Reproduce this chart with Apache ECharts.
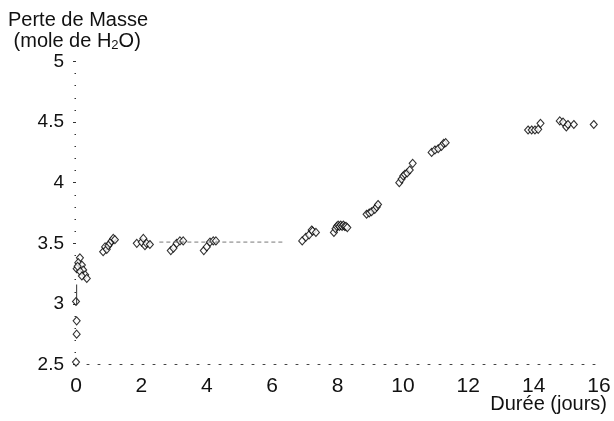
<!DOCTYPE html>
<html>
<head>
<meta charset="utf-8">
<script src="https://cdn.jsdelivr.net/npm/echarts@6/dist/echarts.min.js"></script>
<style>
html,body{margin:0;padding:0;background:#fff;}
#chart{width:614px;height:421px;}
</style>
</head>
<body>
<div id="chart"></div>
<script>
// Durée (jours)
var days = [
  0.00, 0.02, 0.02, 0.00,
  0.12, 0.07, 0.18, 0.02, 0.22, 0.12, 0.28, 0.18, 0.33, 0.05,
  0.83, 0.89, 0.94, 0.99, 1.04, 1.09, 1.14, 1.19,
  1.86, 2.01, 2.06, 2.11, 2.16, 2.26,
  2.90, 2.98, 3.08, 3.18, 3.28,
  3.91, 4.00, 4.10, 4.20, 4.28,
  6.92, 7.03, 7.13, 7.21, 7.24, 7.34,
  7.89, 7.94, 7.98, 8.02, 8.06, 8.10, 8.14, 8.18, 8.22, 8.26, 8.30,
  8.89, 8.97, 9.04, 9.14, 9.20, 9.24,
  9.89, 9.96, 10.01, 10.06, 10.13, 10.21, 10.30,
  10.88, 10.98, 11.08, 11.18, 11.25, 11.31,
  13.83, 13.94, 14.04, 14.14, 14.21,
  14.80, 14.90, 15.00, 15.05, 15.23,
  15.84
];
// Perte de Masse (mole de H2O)
var loss = [
  2.52, 2.75, 2.86, 3.02,
  3.38, 3.34, 3.32, 3.29, 3.28, 3.27, 3.24, 3.23, 3.21, 3.31,
  3.43, 3.47, 3.45, 3.48, 3.50, 3.52, 3.54, 3.53,
  3.50, 3.51, 3.54, 3.48, 3.50, 3.49,
  3.44, 3.46, 3.50, 3.52, 3.52,
  3.44, 3.47, 3.51, 3.52, 3.52,
  3.52, 3.55, 3.57, 3.61, 3.60, 3.59,
  3.59, 3.62, 3.64, 3.65, 3.64, 3.65, 3.64, 3.65, 3.64, 3.64, 3.63,
  3.74, 3.75, 3.76, 3.78, 3.80, 3.82,
  4.00, 4.03, 4.055, 4.07, 4.08, 4.105, 4.16,
  4.25, 4.27, 4.28, 4.30, 4.325, 4.33,
  4.435, 4.435, 4.435, 4.44, 4.49,
  4.51, 4.50, 4.46, 4.48, 4.48,
  4.48
];
// dashed plateau guide near 3.5
var guideX = [2.55, 6.4];
var guideY = [3.51, 3.51];
// small vertical bar at the start
var barX = [0.02, 0.02];
var barY = [2.99, 3.16];

var xTicks = [0, 2, 4, 6, 8, 10, 12, 14, 16];
var yTicks = [2.5, 3, 3.5, 4, 4.5, 5];

function zip(a, b) { return a.map(function (v, i) { return [v, b[i]]; }); }

var chart = echarts.init(document.getElementById('chart'), null, {renderer: 'canvas'});
var font = 'Liberation Sans, Arial, Helvetica, sans-serif';
chart.setOption({
  animation: false,
  backgroundColor: '#fff',
  title: [
    {
      left: 8, top: 10, padding: 0,
      text: '{a|Perte de Masse}\n{a| (mole de H}{s|2}{a|O)}',
      textStyle: {
        fontWeight: 'normal',
        rich: {
          a: {fontFamily: font, fontSize: 20, fontWeight: 'normal', color: '#111', lineHeight: 21},
          s: {fontFamily: font, fontSize: 13, fontWeight: 'normal', color: '#111', lineHeight: 21, padding: [7, 0, 0, 0]}
        }
      }
    },
    {
      right: 7, top: 394, padding: 0,
      text: 'Durée (jours)',
      textStyle: {fontFamily: font, fontSize: 20, fontWeight: 'normal', color: '#111'}
    }
  ],
  grid: {left: 76, right: 15, top: 61.5, bottom: 56.5, containLabel: false},
  xAxis: {
    type: 'value', min: xTicks[0], max: xTicks[xTicks.length - 1], interval: 2,
    axisLine: {show: true, lineStyle: {color: '#444', width: 1, type: [2, 9]}},
    axisTick: {show: false},
    splitLine: {show: false},
    axisLabel: {margin: 11, fontFamily: font, fontSize: 21, color: '#111'}
  },
  yAxis: {
    type: 'value', min: yTicks[0], max: yTicks[yTicks.length - 1], interval: 0.5,
    axisLine: {show: false},
    axisTick: {show: true, length: 3, lineStyle: {color: '#333', width: 1}},
    minorTick: {show: true, splitNumber: 5, length: 1.5, lineStyle: {color: '#333', width: 1}},
    splitLine: {show: false},
    axisLabel: {margin: 12, fontFamily: font, fontSize: 19, color: '#111'}
  },
  series: [
    {
      type: 'line', data: zip(guideX, guideY), symbol: 'none', silent: true,
      lineStyle: {color: '#777', width: 1, type: [4, 3]}
    },
    {
      type: 'line', data: zip(barX, barY), symbol: 'none', silent: true,
      lineStyle: {color: '#333', width: 1}
    },
    {
      type: 'scatter', data: zip(days, loss), symbol: 'diamond', symbolSize: [7, 8],
      clip: false,
      itemStyle: {color: '#fff', borderColor: '#000', borderWidth: 1.1}
    }
  ]
});
</script>
</body>
</html>
